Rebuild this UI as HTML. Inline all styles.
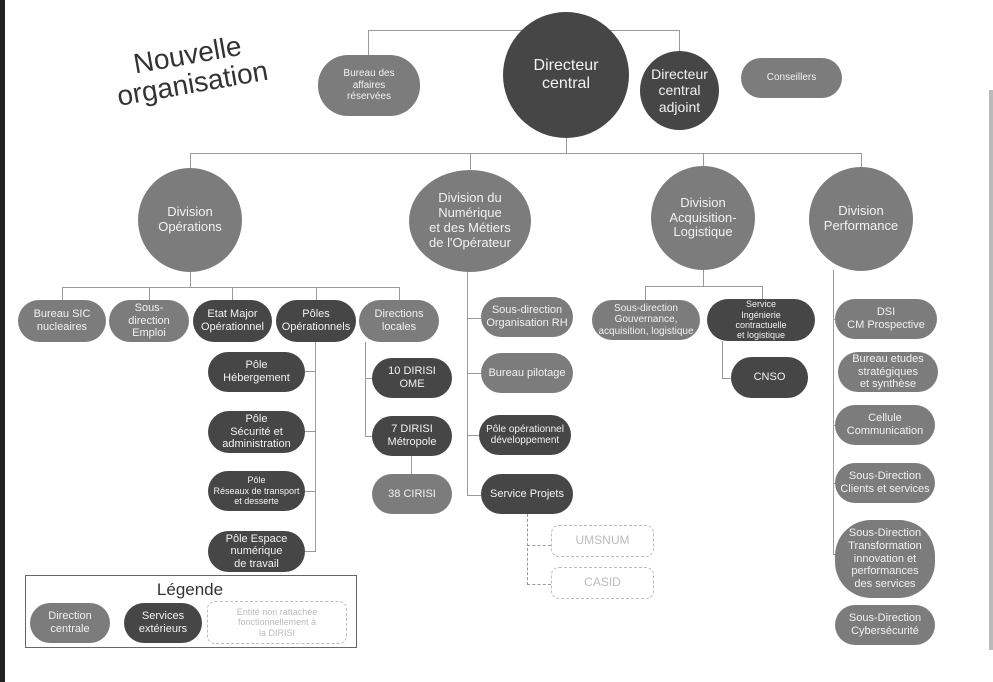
<!DOCTYPE html>
<html><head><meta charset="utf-8"><style>
body{margin:0;width:993px;height:682px;background:#fff;position:relative;overflow:hidden;font-family:"Liberation Sans",sans-serif}
.n{position:absolute;display:flex;align-items:center;justify-content:center;text-align:center;color:#f2f2f2;border-radius:22px;line-height:1.15;font-size:11px;box-sizing:border-box}
.m{background:#7c7c7c}.d{background:#464646}
.c{border-radius:50%}
.ds{border:1.5px dashed #bbb;color:#bbb;background:#fff;border-radius:8px}
.l{position:absolute;background:#9a9a9a}
</style></head><body>
<div style="position:absolute;left:0;top:0;width:5px;height:682px;background:#222"></div>
<div style="position:absolute;left:989px;top:90px;width:4px;height:560px;background:#bbb"></div>
<div style="position:absolute;left:95px;top:40px;width:190px;transform:rotate(-10deg);font-size:28px;color:#333;text-align:center;line-height:1.05">Nouvelle<br>organisation</div>
<!-- lines -->
<div class="l" style="left:368px;top:30px;width:312px;height:1px"></div>
<div class="l" style="left:368px;top:30px;width:1px;height:26px"></div>
<div class="l" style="left:679px;top:30px;width:1px;height:22px"></div>
<div class="l" style="left:566px;top:138px;width:1px;height:16px"></div>
<div class="l" style="left:190px;top:153px;width:672px;height:1px"></div>
<div class="l" style="left:190px;top:153px;width:1px;height:16px"></div>
<div class="l" style="left:470px;top:153px;width:1px;height:16px"></div>
<div class="l" style="left:703px;top:153px;width:1px;height:14px"></div>
<div class="l" style="left:861px;top:153px;width:1px;height:15px"></div>
<div class="l" style="left:190px;top:272px;width:1px;height:15px"></div>
<div class="l" style="left:62px;top:287px;width:338px;height:1px"></div>
<div class="l" style="left:62px;top:287px;width:1px;height:13px"></div>
<div class="l" style="left:149px;top:287px;width:1px;height:13px"></div>
<div class="l" style="left:232px;top:287px;width:1px;height:13px"></div>
<div class="l" style="left:316px;top:287px;width:1px;height:13px"></div>
<div class="l" style="left:399px;top:287px;width:1px;height:13px"></div>
<div class="l" style="left:315px;top:342px;width:1px;height:210px"></div>
<div class="l" style="left:305px;top:371px;width:10px;height:1px"></div>
<div class="l" style="left:305px;top:431px;width:10px;height:1px"></div>
<div class="l" style="left:305px;top:491px;width:10px;height:1px"></div>
<div class="l" style="left:305px;top:551px;width:10px;height:1px"></div>
<div class="l" style="left:365px;top:342px;width:1px;height:95px"></div>
<div class="l" style="left:365px;top:378px;width:8px;height:1px"></div>
<div class="l" style="left:365px;top:436px;width:8px;height:1px"></div>
<div class="l" style="left:411px;top:456px;width:1px;height:18px"></div>
<div class="l" style="left:467px;top:272px;width:1px;height:224px"></div>
<div class="l" style="left:467px;top:318px;width:14px;height:1px"></div>
<div class="l" style="left:467px;top:373px;width:14px;height:1px"></div>
<div class="l" style="left:467px;top:435px;width:14px;height:1px"></div>
<div class="l" style="left:467px;top:495px;width:14px;height:1px"></div>
<div style="position:absolute;left:527px;top:514px;height:71px;border-left:1px dashed #999"></div>
<div style="position:absolute;left:527px;top:545px;width:24px;border-top:1px dashed #999"></div>
<div style="position:absolute;left:527px;top:584px;width:24px;border-top:1px dashed #999"></div>
<div class="l" style="left:703px;top:270px;width:1px;height:17px"></div>
<div class="l" style="left:645px;top:286px;width:117px;height:1px"></div>
<div class="l" style="left:645px;top:286px;width:1px;height:14px"></div>
<div class="l" style="left:762px;top:286px;width:1px;height:13px"></div>
<div class="l" style="left:722px;top:341px;width:1px;height:38px"></div>
<div class="l" style="left:722px;top:378px;width:9px;height:1px"></div>
<div class="l" style="left:833px;top:270px;width:1px;height:285px"></div>
<div class="l" style="left:833px;top:319px;width:3px;height:1px"></div>
<div class="l" style="left:833px;top:425px;width:3px;height:1px"></div>
<div class="l" style="left:833px;top:483px;width:3px;height:1px"></div>
<div class="l" style="left:833px;top:554px;width:3px;height:1px"></div>
<!-- top -->
<div class="n m" style="left:318px;top:55px;width:102px;height:61px;border-radius:30px;font-size:10px">Bureau des<br>affaires<br>réservées</div>
<div class="n d c" style="left:503px;top:12px;width:126px;height:126px;font-size:16px">Directeur<br>central</div>
<div class="n d c" style="left:640px;top:51px;width:79px;height:79px;font-size:14px">Directeur<br>central<br>adjoint</div>
<div class="n m" style="left:741px;top:58px;width:101px;height:40px;font-size:10px">Conseillers</div>
<!-- divisions -->
<div class="n m c" style="left:138px;top:168px;width:104px;height:104px;font-size:13px">Division<br>Opérations</div>
<div class="n m c" style="left:409px;top:170px;width:122px;height:102px;font-size:13px">Division du<br>Numérique<br>et des Métiers<br>de l'Opérateur</div>
<div class="n m c" style="left:651px;top:166px;width:104px;height:104px;font-size:13px">Division<br>Acquisition-<br>Logistique</div>
<div class="n m c" style="left:809px;top:167px;width:104px;height:104px;font-size:13px">Division<br>Performance</div>
<!-- ops -->
<div class="n m" style="left:18px;top:300px;width:88px;height:42px">Bureau SIC<br>nucleaires</div>
<div class="n m" style="left:109px;top:300px;width:80px;height:42px">Sous-<br>direction<br>Emploi</div>
<div class="n d" style="left:193px;top:300px;width:79px;height:42px">Etat Major<br>Opérationnel</div>
<div class="n d" style="left:276px;top:300px;width:80px;height:42px">Pôles<br>Opérationnels</div>
<div class="n m" style="left:359px;top:300px;width:80px;height:42px">Directions<br>locales</div>
<div class="n d" style="left:208px;top:352px;width:97px;height:40px">Pôle<br>Hébergement</div>
<div class="n d" style="left:208px;top:411px;width:97px;height:42px">Pôle<br>Sécurité et<br>administration</div>
<div class="n d" style="left:208px;top:471px;width:97px;height:40px;font-size:9px">Pôle<br>Réseaux de transport<br>et desserte</div>
<div class="n d" style="left:208px;top:531px;width:97px;height:41px">Pôle Espace<br>numérique<br>de travail</div>
<div class="n d" style="left:372px;top:358px;width:80px;height:40px">10 DIRISI<br>OME</div>
<div class="n d" style="left:372px;top:416px;width:80px;height:40px">7 DIRISI<br>Métropole</div>
<div class="n m" style="left:372px;top:474px;width:80px;height:40px">38 CIRISI</div>
<!-- numerique -->
<div class="n m" style="left:481px;top:297px;width:92px;height:40px">Sous-direction<br>Organisation RH</div>
<div class="n m" style="left:481px;top:353px;width:92px;height:40px">Bureau pilotage</div>
<div class="n d" style="left:479px;top:415px;width:92px;height:40px;font-size:10px">Pôle opérationnel<br>développement</div>
<div class="n d" style="left:481px;top:474px;width:92px;height:40px">Service Projets</div>
<div class="n ds" style="left:551px;top:525px;width:103px;height:32px;font-size:12px">UMSNUM</div>
<div class="n ds" style="left:551px;top:567px;width:103px;height:32px;font-size:12px">CASID</div>
<!-- acquisition -->
<div class="n m" style="left:592px;top:300px;width:108px;height:40px;font-size:10px">Sous-direction<br>Gouvernance,<br>acquisition, logistique</div>
<div class="n d" style="left:707px;top:299px;width:108px;height:42px;font-size:9px">Service<br>Ingénierie<br>contractuelle<br>et logistique</div>
<div class="n d" style="left:731px;top:357px;width:77px;height:41px">CNSO</div>
<!-- performance -->
<div class="n m" style="left:835px;top:299px;width:102px;height:40px">DSI<br>CM Prospective</div>
<div class="n m" style="left:838px;top:352px;width:100px;height:40px">Bureau etudes<br>stratégiques<br>et synthèse</div>
<div class="n m" style="left:835px;top:405px;width:100px;height:40px">Cellule<br>Communication</div>
<div class="n m" style="left:835px;top:463px;width:100px;height:40px">Sous-Direction<br>Clients et services</div>
<div class="n m" style="left:835px;top:520px;width:100px;height:78px;border-radius:36px">Sous-Direction<br>Transformation<br>innovation et<br>performances<br>des services</div>
<div class="n m" style="left:835px;top:605px;width:100px;height:40px">Sous-Direction<br>Cybersécurité</div>
<!-- legend -->
<div style="position:absolute;left:25px;top:575px;width:332px;height:73px;border:1px solid #666;box-sizing:border-box"></div>
<div style="position:absolute;left:140px;top:580px;width:100px;text-align:center;font-size:17px;color:#333">Légende</div>
<div class="n m" style="left:30px;top:603px;width:80px;height:40px">Direction<br>centrale</div>
<div class="n d" style="left:124px;top:603px;width:78px;height:40px">Services<br>extérieurs</div>
<div class="n ds" style="left:207px;top:601px;width:140px;height:43px;font-size:9px">Entité non rattachée<br>fonctionnellement à<br>la DIRISI</div>
</body></html>
